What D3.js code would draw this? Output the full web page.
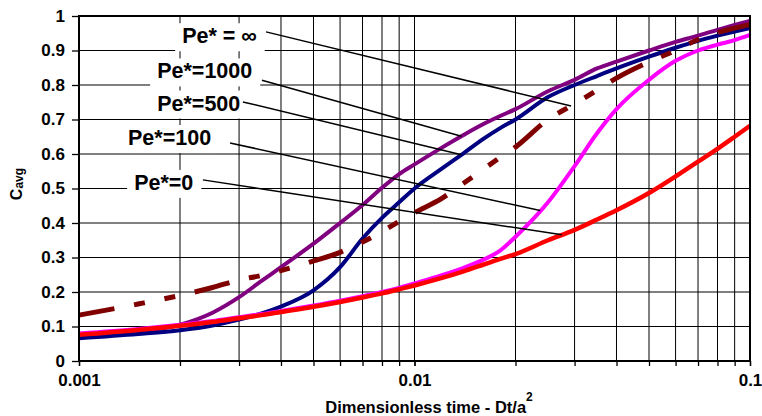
<!DOCTYPE html>
<html>
<head>
<meta charset="utf-8">
<script src="https://cdn.jsdelivr.net/npm/d3@7"></script>
<style>
  body { margin: 0; background: #ffffff; }
  text { font-family: "Liberation Sans", Arial, sans-serif; font-weight: bold; fill: #000000; }
</style>
</head>
<body>
<div class="chart"></div>
<script>
// ************************ DATA ************************

// dimensionless time Dt/a^2, shared by every curve
const times = [0.001, 0.0015, 0.002, 0.0025, 0.003, 0.0035, 0.004, 0.005, 0.006, 0.007,
  0.008, 0.009, 0.01, 0.012, 0.014, 0.016, 0.018, 0.02, 0.025, 0.03,
  0.035, 0.04, 0.05, 0.06, 0.07, 0.08, 0.09, 0.1]

// Cavg for each Peclet number
const pe0 = [0.076, 0.09, 0.102, 0.113, 0.124, 0.133, 0.142, 0.157, 0.171, 0.184,
  0.196, 0.208, 0.219, 0.24, 0.26, 0.279, 0.296, 0.31, 0.35, 0.38,
  0.41, 0.437, 0.487, 0.535, 0.578, 0.615, 0.65, 0.682]
const pe100 = [0.08, 0.093, 0.105, 0.116, 0.127, 0.136, 0.145, 0.161, 0.175, 0.188,
  0.2, 0.212, 0.225, 0.248, 0.27, 0.293, 0.32, 0.36, 0.46, 0.565,
  0.66, 0.73, 0.815, 0.87, 0.9, 0.917, 0.93, 0.945]
const pe500 = [0.066, 0.078, 0.089, 0.103, 0.12, 0.138, 0.158, 0.205, 0.272, 0.355,
  0.415, 0.46, 0.5, 0.556, 0.602, 0.643, 0.675, 0.7, 0.765, 0.8,
  0.826, 0.848, 0.882, 0.908, 0.928, 0.943, 0.955, 0.965]
const pe1000 = [0.071, 0.085, 0.105, 0.14, 0.185, 0.232, 0.272, 0.34, 0.4, 0.452,
  0.502, 0.542, 0.57, 0.617, 0.655, 0.686, 0.71, 0.73, 0.782, 0.815,
  0.848, 0.868, 0.9, 0.925, 0.943, 0.96, 0.974, 0.986]
const peInf = [0.133, 0.165, 0.19, 0.213, 0.235, 0.248, 0.262, 0.29, 0.315, 0.345,
  0.375, 0.405, 0.43, 0.47, 0.515, 0.555, 0.59, 0.62, 0.7, 0.745,
  0.785, 0.82, 0.867, 0.9, 0.932, 0.952, 0.965, 0.975]

// axis ticks
const yTicks = [0, 0.1, 0.2, 0.3, 0.4, 0.5, 0.6, 0.7, 0.8, 0.9, 1]
const yTickLabels = ["0", "0.1", "0.2", "0.3", "0.4", "0.5", "0.6", "0.7", "0.8", "0.9", "1"]
const xTicks = [0.001, 0.01, 0.1]
const xTickLabels = ["0.001", "0.01", "0.1"]

// callouts: text, where the text starts (data units), where the leader starts,
// and the time where the leader meets its curve
const calloutText = ["Pe* = \u221e", "Pe*=1000", "Pe*=500", "Pe*=100", "Pe*=0"]
const calloutAt = [[0.00203, 0.921], [0.00171, 0.819], [0.00171, 0.726], [0.0014, 0.626], [0.00146, 0.496]]
const leaderFrom = [[0.00361, 0.954], [0.00351, 0.814], [0.00308, 0.751], [0.00282, 0.632], [0.00234, 0.525]]
const leaderTo = [0.0293, 0.0138, 0.0138, 0.0237, 0.0275]

// ************************ CHART ************************

const width = 762
const height = 416
const plot = { left: 79, right: 750, top: 16, bottom: 361 }

const x = d3.scaleLog()
  .domain([0.001, 0.1])
  .range([plot.left, plot.right])

const y = d3.scaleLinear()
  .domain([0, 1])
  .range([plot.bottom, plot.top])

const svg = d3.select(".chart")
  .append("svg")
  .attr("width", width)
  .attr("height", height)

// gridlines
const grid = svg.append("g")
  .attr("stroke", "#000000")
  .attr("stroke-width", 1)

grid.selectAll(".vgrid")
  .data(x.ticks())
  .enter()
  .append("line")
  .attr("x1", (d) => x(d))
  .attr("x2", (d) => x(d))
  .attr("y1", plot.top)
  .attr("y2", plot.bottom)

grid.selectAll(".hgrid")
  .data(yTicks)
  .enter()
  .append("line")
  .attr("x1", plot.left)
  .attr("x2", plot.right)
  .attr("y1", (d) => y(d))
  .attr("y2", (d) => y(d))

// series, in drawing order (red ends on top)
const series = [
  { values: pe1000, color: "#800080", width: 4, dash: null },
  { values: pe500, color: "#000080", width: 4, dash: null },
  { values: peInf, color: "#800000", width: 5, dash: "36,20,11,20,11,20" },
  { values: pe100, color: "#ff00ff", width: 4, dash: null },
  { values: pe0, color: "#ff0000", width: 4.5, dash: null }
]

const line = d3.line()
  .x((d) => x(d[0]))
  .y((d) => y(d[1]))
  .curve(d3.curveMonotoneX)

svg.append("g")
  .selectAll("path")
  .data(series)
  .enter()
  .append("path")
  .attr("d", (s) => line(times.map((t, i) => [t, s.values[i]])))
  .attr("fill", "none")
  .attr("stroke", (s) => s.color)
  .attr("stroke-width", (s) => s.width)
  .attr("stroke-dasharray", (s) => s.dash)
  .attr("stroke-linejoin", "round")

// value of a curve at time t (linear in log time)
const valueAt = (values, t) => {
  const i = Math.min(Math.max(d3.bisectLeft(times, t), 1), times.length - 1)
  const f = (Math.log(t) - Math.log(times[i - 1])) / (Math.log(times[i]) - Math.log(times[i - 1]))
  return values[i - 1] + f * (values[i] - values[i - 1])
}
const calloutCurves = [peInf, pe1000, pe500, pe100, pe0]

// callout labels with white boxes
const callouts = svg.append("g")
const labelText = callouts.selectAll("text")
  .data(calloutText)
  .enter()
  .append("text")
  .attr("x", (d, i) => x(calloutAt[i][0]))
  .attr("y", (d, i) => y(calloutAt[i][1]))
  .attr("font-size", 21.5)
  .text((d) => d)

labelText.each(function () {
  const b = this.getBBox()
  callouts.insert("rect", "text")
    .attr("x", b.x - 7)
    .attr("y", b.y - 1)
    .attr("width", b.width + 15)
    .attr("height", b.height + 4)
    .attr("fill", "#ffffff")
})

// leader lines
callouts.selectAll("line")
  .data(leaderTo)
  .enter()
  .append("line")
  .attr("x1", (d, i) => x(leaderFrom[i][0]))
  .attr("y1", (d, i) => y(leaderFrom[i][1]))
  .attr("x2", (d) => x(d))
  .attr("y2", (d, i) => y(valueAt(calloutCurves[i], d)))
  .attr("stroke", "#000000")
  .attr("stroke-width", 1.5)

// frame
svg.append("rect")
  .attr("x", plot.left)
  .attr("y", plot.top)
  .attr("width", plot.right - plot.left)
  .attr("height", plot.bottom - plot.top)
  .attr("fill", "none")
  .attr("stroke", "#000000")
  .attr("stroke-width", 2)

// y-axis
const yAxis = d3.axisLeft(y)
  .tickValues(yTicks)
  .tickSize(7)
  .tickPadding(7)
  .tickFormat((d, i) => yTickLabels[i])
svg.append("g")
  .attr("transform", "translate(" + plot.left + ",0)")
  .call(yAxis)
  .call((g) => g.select(".domain").remove())
  .call((g) => g.selectAll("text").attr("font-size", 17).attr("font-family", null).attr("fill", null))
  .call((g) => g.selectAll("line").attr("stroke-width", 1.3))

// x-axis: minor ticks, then labelled decades
const xMinor = d3.axisBottom(x)
  .tickValues(x.ticks())
  .tickSize(5)
  .tickFormat("")
svg.append("g")
  .attr("transform", "translate(0," + plot.bottom + ")")
  .call(xMinor)
  .call((g) => g.select(".domain").remove())
  .call((g) => g.selectAll("line").attr("stroke-width", 1.3))

const xAxis = d3.axisBottom(x)
  .tickValues(xTicks)
  .tickSize(5)
  .tickPadding(8)
  .tickFormat((d, i) => xTickLabels[i])
svg.append("g")
  .attr("transform", "translate(0," + plot.bottom + ")")
  .call(xAxis)
  .call((g) => g.select(".domain").remove())
  .call((g) => g.selectAll("text").attr("font-size", 17).attr("font-family", null).attr("fill", null))
  .call((g) => g.selectAll("line").attr("stroke-width", 1.3))

// axis titles
const xTitle = svg.append("text")
  .attr("x", 429)
  .attr("y", 412.5)
  .attr("text-anchor", "middle")
  .attr("font-size", 16.5)
xTitle.append("tspan").text("Dimensionless time - Dt/a")
xTitle.append("tspan").attr("font-size", 12).attr("dy", -12).text("2")

const yTitle = svg.append("text")
  .attr("transform", "translate(21.5,184) rotate(-90)")
  .attr("text-anchor", "middle")
  .attr("font-size", 16)
yTitle.append("tspan").text("C")
yTitle.append("tspan").attr("font-size", 12).attr("dy", 1).text("avg")
</script>
</body>
</html>
